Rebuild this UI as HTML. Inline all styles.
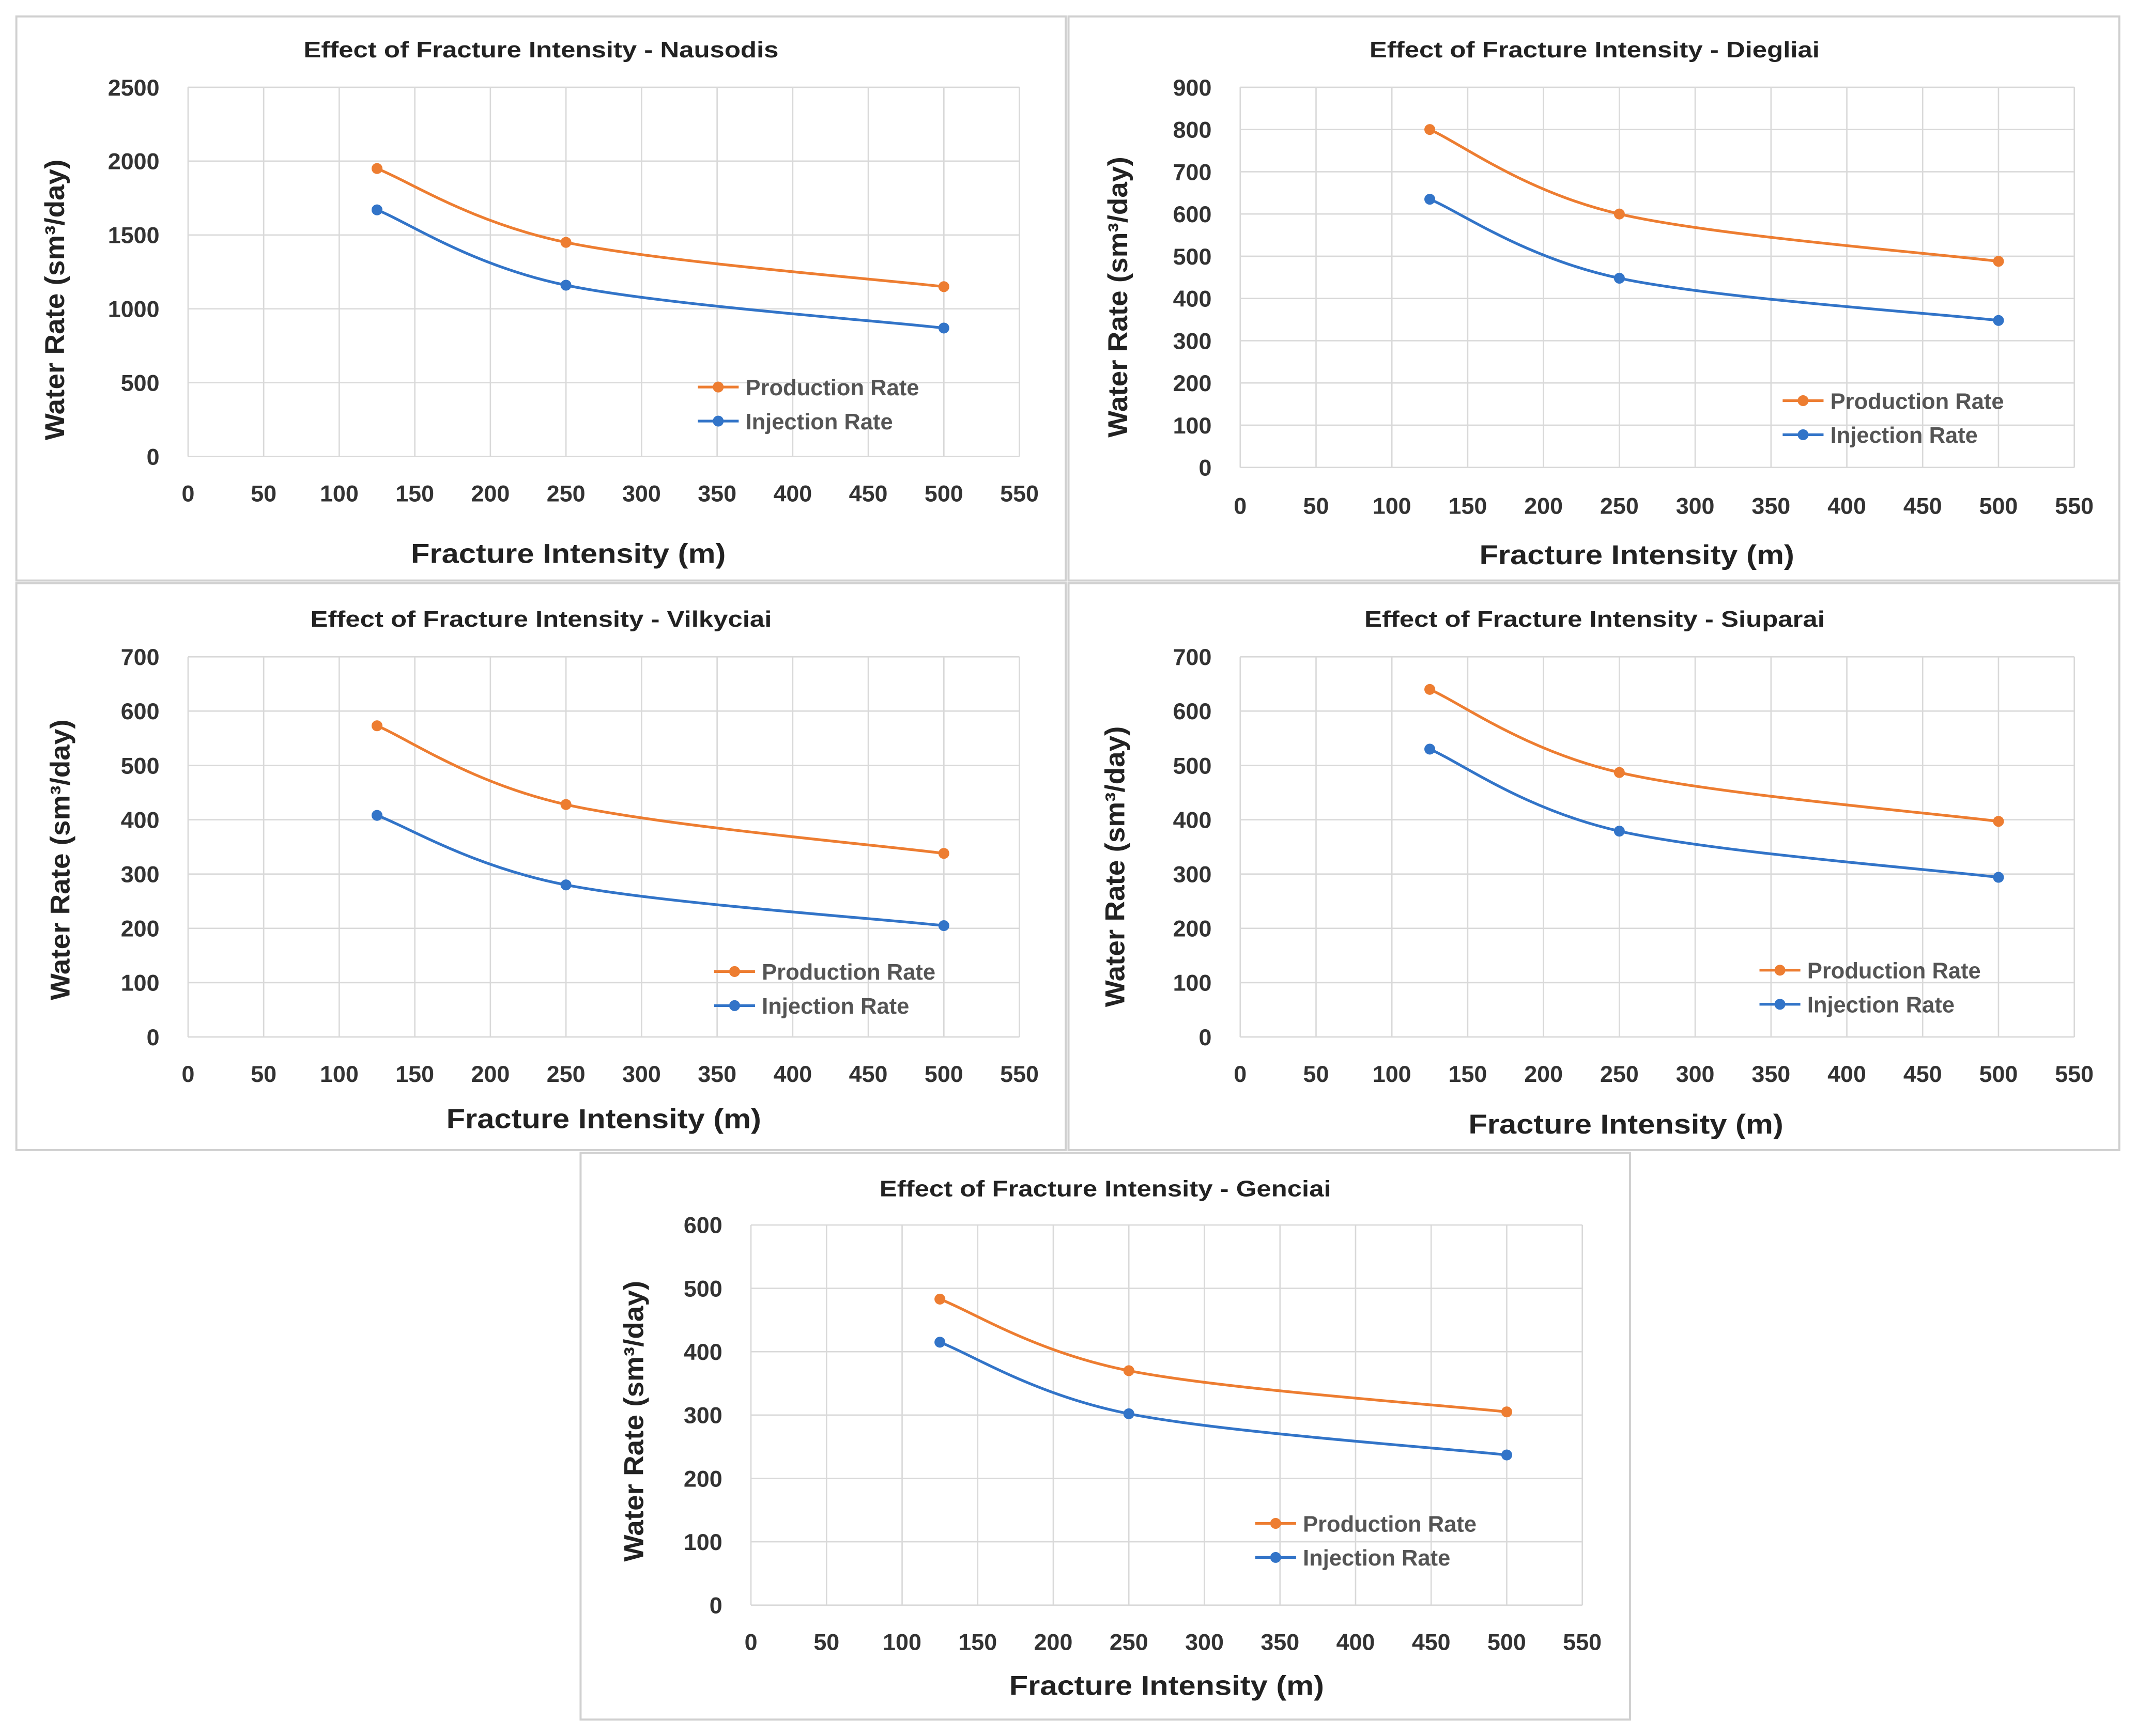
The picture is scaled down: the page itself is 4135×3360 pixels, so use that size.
<!DOCTYPE html>
<html><head><meta charset="utf-8">
<style>
html,body{margin:0;padding:0;background:#fff;}
svg{display:block;font-family:"Liberation Sans",sans-serif;}
</style></head>
<body>
<svg id="root" width="4135" height="3360" viewBox="0 0 1568 1274" xmlns="http://www.w3.org/2000/svg"></svg>
<script>
const xValues = [125, 250, 500];
const xTicks = [0,50,100,150,200,250,300,350,400,450,500,550];
const seriesNames = ["Production Rate","Injection Rate"];
const nausodisProd = [1950, 1450, 1150];
const nausodisInj = [1670, 1160, 870];
const diegliaiProd = [800, 600, 488];
const diegliaiInj = [635, 448, 348];
const vilkyciaiProd = [573, 428, 338];
const vilkyciaiInj = [408, 280, 205];
const siuparaiProd = [640, 487, 397];
const siuparaiInj = [530, 379, 294];
const genciaiProd = [483, 370, 305];
const genciaiInj = [415, 302, 237];
const nausodisYTicks = [0,500,1000,1500,2000,2500];
const diegliaiYTicks = [0,100,200,300,400,500,600,700,800,900];
const vilkyciaiYTicks = [0,100,200,300,400,500,600,700];
const siuparaiYTicks = [0,100,200,300,400,500,600,700];
const genciaiYTicks = [0,100,200,300,400,500,600];

const NS="http://www.w3.org/2000/svg";
const root=document.getElementById('root');
function mk(tag,attrs,parent){const e=document.createElementNS(NS,tag);for(const k in attrs)e.setAttribute(k,attrs[k]);(parent||root).appendChild(e);return e;}
function stretch(e,f){const L=e.getComputedTextLength();e.setAttribute('textLength',L*f);e.setAttribute('lengthAdjust','spacingAndGlyphs');}

const panels=[
 {key:'nausodis',title:'Effect of Fracture Intensity - Nausodis',box:[12,12,770,414],x0:138,x1:748,y0:335,y1:64,yt:nausodisYTicks,prod:nausodisProd,inj:nausodisInj,titleY:36,titleX:397,xlabY:362,xtitleY:406,xtitleX:417,ytitleX:40,ytitleC:220,leg:[512,284]},
 {key:'diegliai',title:'Effect of Fracture Intensity - Diegliai',box:[784,12,771,414],x0:910,x1:1522,y0:343,y1:64,yt:diegliaiYTicks,prod:diegliaiProd,inj:diegliaiInj,titleY:36,titleX:1170,xlabY:371,xtitleY:407,xtitleX:1201,ytitleX:820,ytitleC:218,leg:[1308,294]},
 {key:'vilkyciai',title:'Effect of Fracture Intensity - Vilkyciai',box:[12,428,770,416],x0:138,x1:748,y0:761,y1:482,yt:vilkyciaiYTicks,prod:vilkyciaiProd,inj:vilkyciaiInj,titleY:454,titleX:397,xlabY:788,xtitleY:821,xtitleX:443,ytitleX:44,ytitleC:631,leg:[524,713]},
 {key:'siuparai',title:'Effect of Fracture Intensity - Siuparai',box:[784,428,771,416],x0:910,x1:1522,y0:761,y1:482,yt:siuparaiYTicks,prod:siuparaiProd,inj:siuparaiInj,titleY:454,titleX:1170,xlabY:788,xtitleY:825,xtitleX:1193,ytitleX:818,ytitleC:636,leg:[1291,712]},
 {key:'genciai',title:'Effect of Fracture Intensity - Genciai',box:[426,846,770,416],x0:551,x1:1161,y0:1178,y1:899,yt:genciaiYTicks,prod:genciaiProd,inj:genciaiInj,titleY:872,titleX:811,xlabY:1205,xtitleY:1237,xtitleX:856,ytitleX:465,ytitleC:1043,leg:[921,1118]}
];
const colors=['#ED7D31','#3274C8'];

function smoothPath(pts){
 let d='M'+pts[0][0]+','+pts[0][1];
 for(let i=0;i<pts.length-1;i++){
  const p0=pts[i-1]||pts[i],p1=pts[i],p2=pts[i+1],p3=pts[i+2]||p2;
  const c1=[p1[0]+(p2[0]-p0[0])/6,p1[1]+(p2[1]-p0[1])/6];
  const c2=[p2[0]-(p3[0]-p1[0])/6,p2[1]-(p3[1]-p1[1])/6];
  d+=' C'+c1+' '+c2+' '+p2;
 }
 return d;
}

panels.forEach(p=>{
 const g=mk('g',{});
 
 
 const b=mk('rect',{x:p.box[0],y:p.box[1],width:p.box[2],height:p.box[3],fill:'#fff',stroke:'#d0d0d0','stroke-width':1.5},g);
 
 const xmax=xTicks[xTicks.length-1], ymax=p.yt[p.yt.length-1];
 const sx=v=>p.x0+(p.x1-p.x0)*v/xmax;
 const sy=v=>p.y0-(p.y0-p.y1)*v/ymax;
 const grid=mk('g',{stroke:'#d9d9d9','stroke-width':1},g);
 
 xTicks.forEach(t=>{mk('line',{x1:sx(t),x2:sx(t),y1:p.y0,y2:p.y1},grid);});
 p.yt.forEach(t=>{mk('line',{x1:p.x0,x2:p.x1,y1:sy(t),y2:sy(t)},grid);});
 xTicks.forEach(t=>{const e=mk('text',{x:sx(t),y:p.xlabY+6,'text-anchor':'middle','font-size':17,'font-weight':'bold',fill:'#333'},g);e.textContent=t;
  });
 p.yt.forEach(t=>{const e=mk('text',{x:p.x0-21,y:sy(t)+6,'text-anchor':'end','font-size':17,'font-weight':'bold',fill:'#333'},g);e.textContent=t;
  });
 const tt=mk('text',{x:p.titleX,y:p.titleY+6,'text-anchor':'middle','font-size':16.5,'font-weight':'bold',fill:'#222'},g);tt.textContent=p.title;
 
 stretch(tt,1.17);
 const xt=mk('text',{x:p.xtitleX,y:p.xtitleY+7,'text-anchor':'middle','font-size':20,'font-weight':'bold',fill:'#222'},g);xt.textContent='Fracture Intensity (m)';
 
 stretch(xt,1.13);
 const yt=mk('text',{x:0,y:0,transform:`translate(${p.ytitleX+7},${p.ytitleC}) rotate(-90)`,'text-anchor':'middle','font-size':20,'font-weight':'bold',fill:'#222'},g);yt.textContent='Water Rate (sm³/day)';
 
 stretch(yt,1.04);
 [p.prod,p.inj].forEach((vals,si)=>{
  const pts=xValues.map((x,i)=>[sx(x),sy(vals[i])]);
  const path=mk('path',{d:smoothPath(pts),fill:'none',stroke:colors[si],'stroke-width':2},g);
  
  
  pts.forEach(pt=>{const c=mk('circle',{cx:pt[0],cy:pt[1],r:4,fill:colors[si]},g);
   
   });
  const ly=p.leg[1]+si*25;
  const lg=mk('g',{},g);
  
  
  mk('line',{x1:p.leg[0],x2:p.leg[0]+30,y1:ly,y2:ly,stroke:colors[si],'stroke-width':2},lg);
  mk('circle',{cx:p.leg[0]+15,cy:ly,r:4,fill:colors[si]},lg);
  const lt=mk('text',{x:p.leg[0]+35,y:ly+6,'font-size':16.5,'font-weight':'bold',fill:'#555'},lg);lt.textContent=seriesNames[si];
 });
});
</script>
</body></html>
